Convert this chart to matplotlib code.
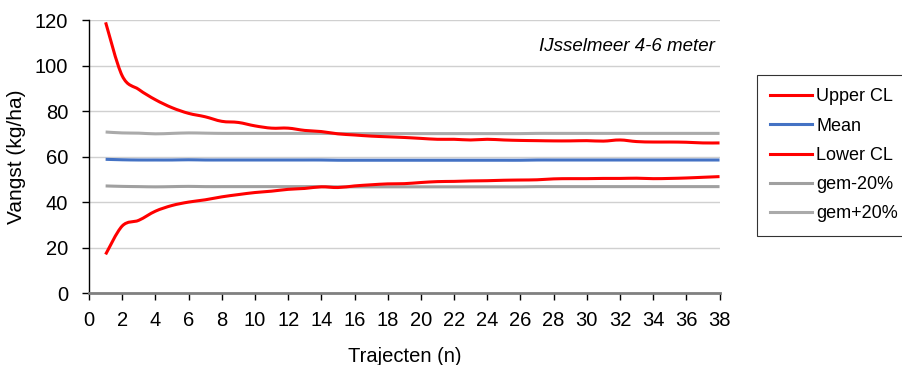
import numpy as np
import matplotlib
matplotlib.use('Agg')
import matplotlib.pyplot as plt
from matplotlib.lines import Line2D
from matplotlib.path import Path
from matplotlib.patches import PathPatch

# data
n = list(range(1, 39))
upper_cl = [119, 95.5, 89.5, 85, 81.5, 79, 77.5, 75.5, 75, 73.5, 72.5, 72.5, 71.5, 71, 70,
            69.5, 69, 68.7, 68.4, 68, 67.6, 67.6, 67.3, 67.6, 67.3, 67.1, 67, 66.9, 66.9,
            67, 66.8, 67.3, 66.6, 66.4, 66.4, 66.3, 66, 66]
mean = [58.8, 58.6, 58.5, 58.5, 58.5, 58.6, 58.5, 58.5, 58.5, 58.5, 58.5, 58.5, 58.5,
        58.5, 58.4, 58.4, 58.4, 58.4, 58.4, 58.4, 58.4, 58.4, 58.4, 58.4, 58.4, 58.4,
        58.5, 58.5, 58.5, 58.5, 58.5, 58.5, 58.5, 58.5, 58.5, 58.5, 58.5, 58.5]
lower_cl = [17, 29.5, 32, 36, 38.5, 40, 41, 42.3, 43.3, 44.2, 44.8, 45.6, 46, 46.7, 46.4,
            47.1, 47.6, 48, 48.1, 48.6, 49, 49.1, 49.3, 49.4, 49.6, 49.7, 49.8, 50.2, 50.3,
            50.3, 50.4, 50.4, 50.5, 50.3, 50.4, 50.6, 50.9, 51.2]
gem_min20 = [47.1, 46.9, 46.8, 46.7, 46.8, 46.9, 46.8, 46.8, 46.8, 46.8, 46.8, 46.8, 46.8,
             46.8, 46.7, 46.7, 46.7, 46.7, 46.7, 46.7, 46.7, 46.7, 46.7, 46.7, 46.7, 46.7,
             46.8, 46.8, 46.8, 46.8, 46.8, 46.8, 46.8, 46.8, 46.8, 46.8, 46.8, 46.8]
gem_plus20 = [70.8, 70.4, 70.3, 70.0, 70.2, 70.4, 70.3, 70.2, 70.2, 70.2, 70.2, 70.2, 70.2,
              70.2, 70.1, 70.1, 70.1, 70.1, 70.1, 70.1, 70.1, 70.1, 70.1, 70.1, 70.1, 70.1,
              70.2, 70.2, 70.2, 70.2, 70.2, 70.2, 70.2, 70.2, 70.2, 70.2, 70.2, 70.2]
xticks = list(range(0, 39, 2))
yticks = [0, 20, 40, 60, 80, 100, 120]

RED = '#ff0000'
BLUE = '#4472c4'
GREY1 = '#a0a0a0'
GREY2 = '#aaaaaa'
LW = 2.2


def smooth_line(ax, xs, ys, color):
    # excel-style smoothed line: bezier segments through the data points
    x = np.asarray(xs, float)
    y = np.asarray(ys, float)
    verts = [(x[0], y[0])]
    codes = [Path.MOVETO]
    for i in range(len(x) - 1):
        i0 = max(i - 1, 0)
        i3 = min(i + 2, len(x) - 1)
        c1 = (x[i] + (x[i + 1] - x[i0]) / 6, y[i] + (y[i + 1] - y[i0]) / 6)
        c2 = (x[i + 1] - (x[i3] - x[i]) / 6, y[i + 1] - (y[i3] - y[i]) / 6)
        verts += [c1, c2, (x[i + 1], y[i + 1])]
        codes += [Path.CURVE4] * 3
    patch = PathPatch(Path(verts, codes), facecolor='none', edgecolor=color,
                      lw=LW, capstyle='butt', joinstyle='round')
    ax.add_patch(patch)


plt.rcParams['font.family'] = ['Liberation Sans', 'DejaVu Sans']

fig = plt.figure(figsize=(9.02, 3.65), dpi=100)
ax = fig.add_axes([0.0987, 0.197, 0.699, 0.748])

smooth_line(ax, n, gem_min20, GREY1)
smooth_line(ax, n, gem_plus20, GREY2)
smooth_line(ax, n, mean, BLUE)
smooth_line(ax, n, lower_cl, RED)
smooth_line(ax, n, upper_cl, RED)

ax.set_xlim(0, 38)
ax.set_ylim(0, 120)
ax.set_xticks(xticks)
ax.set_yticks(yticks)
ax.yaxis.grid(True, color='#d0d0d0', lw=1)
ax.set_axisbelow(True)
ax.spines['top'].set_visible(False)
ax.spines['right'].set_visible(False)
ax.spines['left'].set_color('black')
ax.spines['left'].set_linewidth(1)
ax.spines['bottom'].set_color('#808080')
ax.spines['bottom'].set_linewidth(2)
ax.tick_params(axis='y', direction='out', length=5, width=1, labelsize=14.5, pad=10)
ax.tick_params(axis='x', direction='out', length=5, width=1, labelsize=14, pad=8)
for lab in ax.get_xticklabels():
    lab.set_family(['Liberation Sans Narrow', 'Liberation Sans'])
    lab.set_fontsize(14.5)

ax.set_xlabel('Trajecten (n)', fontsize=14.5, labelpad=12)
ax.set_ylabel('Vangst (kg/ha)', fontsize=15, labelpad=6)
ax.text(0.993, 0.905, 'IJsselmeer 4-6 meter', transform=ax.transAxes,
        ha='right', va='center', fontsize=13.5, style='italic')

handles = [Line2D([], [], color=RED, lw=LW),
           Line2D([], [], color=BLUE, lw=LW),
           Line2D([], [], color=RED, lw=LW),
           Line2D([], [], color=GREY1, lw=LW),
           Line2D([], [], color=GREY2, lw=LW)]
labels = ['Upper CL', 'Mean', 'Lower CL', 'gem-20%', 'gem+20%']
leg = fig.legend(handles, labels, loc='upper left', bbox_to_anchor=(0.839, 0.795),
                 borderaxespad=0, frameon=True, fancybox=False, fontsize=13,
                 handlelength=2.3, handletextpad=0.25, labelspacing=0.68,
                 borderpad=0.75)
leg.get_frame().set_edgecolor('black')
leg.get_frame().set_linewidth(0.8)

fig.savefig('out.png', dpi=100)
